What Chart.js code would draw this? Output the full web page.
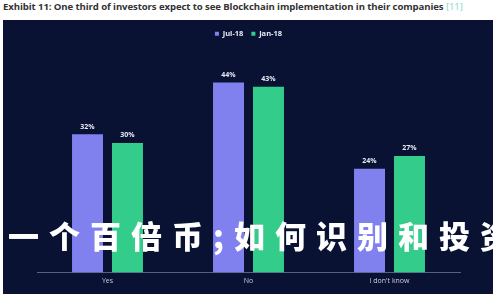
<!DOCTYPE html>
<html>
<head>
<meta charset="utf-8">
<script src="https://cdn.jsdelivr.net/npm/chart.js@4/dist/chart.umd.min.js"></script>
<style>
  body { margin: 0; width: 500px; height: 300px; background: #fff; position: relative; overflow: hidden; font-family: "Open Sans", "DejaVu Sans", sans-serif; }
  #title { position: absolute; left: 3px; top: 0px; font-size: 9.6px; font-weight: 700; color: #333; white-space: nowrap; letter-spacing: -0.1px; }
  #title span { color: #7fd6c8; font-weight: 400; }
  #panel { position: absolute; left: 3px; top: 20px; width: 490px; height: 274px; background: #0a1233; }
  #overlay { position: absolute; left: 8px; top: 219px; font-family: "Noto Sans CJK SC", sans-serif; font-weight: 900; font-size: 31px; letter-spacing: 10px; color: #fff; white-space: nowrap; line-height: 1; }
</style>
</head>
<body>
<div id="title">Exhibit 11: One third of investors expect to see Blockchain implementation in their companies <span>[11]</span></div>
<div id="panel"><canvas id="myChart" width="490" height="274"></canvas></div>
<div id="overlay">一个百倍币;如何识别和投资</div>
<script>
// Chart data
const labels = ['Yes', 'No', "I don't know"];
const data_jul = [32, 44, 24];
const data_jan = [30, 43, 27];
const series_names = ['Jul-18', 'Jan-18'];

// Draw the % value above each bar
const valueLabels = {
    id: 'valueLabels',
    afterDatasetsDraw(chart) {
        const ctx = chart.ctx;
        ctx.save();
        ctx.fillStyle = '#e8eaf5';
        ctx.font = 'bold 7px "Open Sans", sans-serif';
        ctx.textAlign = 'center';
        ctx.textBaseline = 'bottom';
        chart.data.datasets.forEach((ds, i) => {
            chart.getDatasetMeta(i).data.forEach((bar, j) => {
                ctx.fillText(ds.data[j] + '%', bar.x, bar.y - 4);
            });
        });
        ctx.restore();
    }
};

// Extra room under the legend
const legendGap = {
    id: 'legendGap',
    beforeInit(chart) {
        const fit = chart.legend.fit;
        chart.legend.fit = function () {
            fit.bind(chart.legend)();
            this.height += 9;
        };
    }
};

const ctx = document.getElementById('myChart');

const myChart = new Chart(ctx, {
    type: 'bar',
    data: {
        labels: labels,
        datasets: [{
            label: series_names[0],
            backgroundColor: '#8080ee',
            data: data_jul,
        }, {
            label: series_names[1],
            backgroundColor: '#33cc8a',
            data: data_jan,
        }]
    },
    options: {
        responsive: false,
        animation: false,
        categoryPercentage: 0.567,
        barPercentage: 0.775,
        layout: { padding: { left: 34, right: 33, top: 2, bottom: 5 } },
        plugins: {
            legend: {
                position: 'top',
                labels: {
                    color: '#e8eaf5',
                    font: { size: 7.5, weight: 'bold', family: '"Open Sans", sans-serif' },
                    usePointStyle: true,
                    pointStyle: 'rect',
                    boxWidth: 4,
                    boxHeight: 4,
                    padding: 8
                }
            },
            tooltip: { enabled: false }
        },
        scales: {
            x: {
                grid: { display: false, drawTicks: false },
                border: { color: '#59607e', width: 1 },
                ticks: { color: '#c9cce0', font: { size: 7, family: '"Open Sans", sans-serif' }, padding: 4 }
            },
            y: {
                display: false,
                min: 0,
                max: 50
            }
        }
    },
    plugins: [valueLabels, legendGap]
});
</script>
</body>
</html>
